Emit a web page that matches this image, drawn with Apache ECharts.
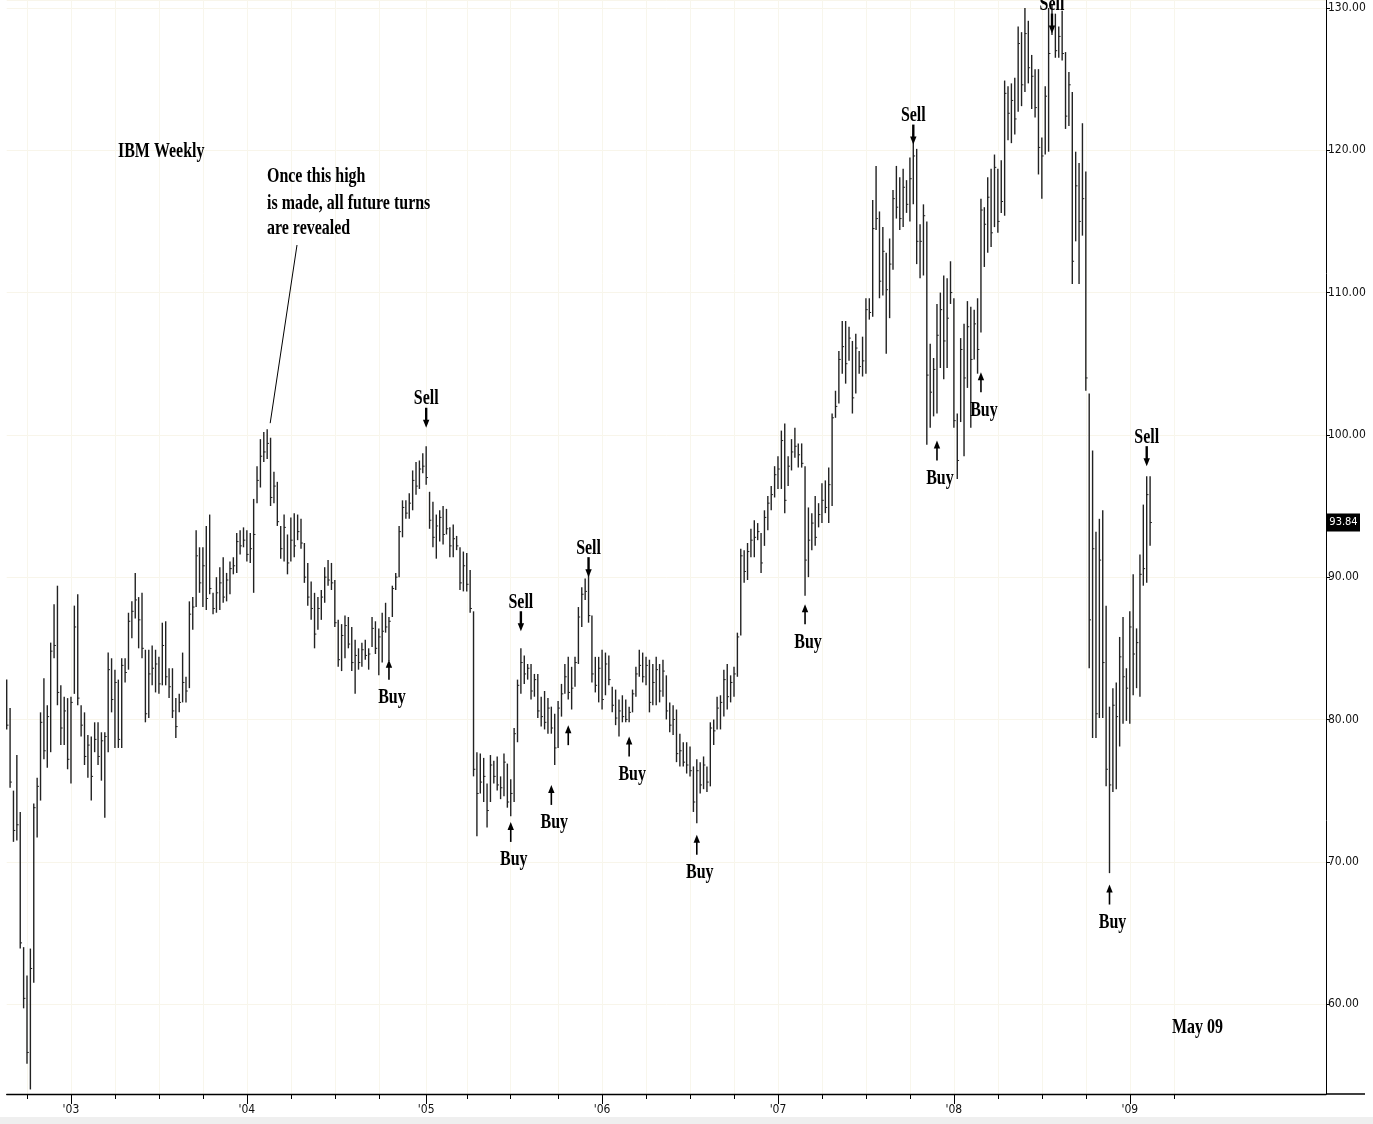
<!DOCTYPE html>
<html><head><meta charset="utf-8">
<script src="https://cdn.jsdelivr.net/npm/echarts@6/dist/echarts.min.js"></script>
<style>html,body{margin:0;padding:0;background:#fff;}#c{width:1373px;height:1124px;}</style>
</head><body><div id="c"></div>
<script>
// ---- data (weekly bars, IBM) ----
const firstWeek = '2002-08-23';
const weekSlots = 391;
const lastTickDate = '2009-04-30';
const highs = [
82.8,80.8,75.0,77.5,73.5,64.0,62.0,63.9,74.1,75.9,
80.5,82.9,81.0,85.4,88.1,89.4,82.4,81.6,81.5,81.6,
88.0,88.8,81.0,80.5,78.9,78.8,79.8,79.8,79.1,79.1,
84.7,84.3,83.5,82.8,84.3,84.3,87.5,88.3,90.3,88.6,
88.9,84.9,84.9,85.2,84.9,84.4,86.8,86.9,83.6,83.6,
81.5,81.8,84.7,83.0,88.3,88.6,93.3,92.1,92.1,93.6,
94.4,88.9,90.0,90.7,91.4,90.3,91.1,91.4,93.1,93.3,
93.5,93.3,93.1,95.5,97.8,99.7,100.2,100.4,99.8,97.4,
96.7,93.6,94.4,93.0,94.2,94.5,94.4,94.1,92.4,91.0,
89.7,88.9,88.6,89.1,90.7,91.2,91.0,89.8,87.0,86.7,
87.3,87.2,86.5,85.6,85.0,85.4,85.6,85.0,87.2,86.9,
86.4,87.5,88.2,87.2,89.4,90.3,93.6,95.4,95.4,95.9,
97.5,98.1,98.2,98.7,99.2,96.0,95.3,94.4,94.7,95.0,
94.8,93.5,93.7,92.9,92.1,91.8,91.7,90.5,87.6,77.7,
77.6,77.3,75.5,77.5,77.1,77.4,76.0,77.6,76.9,75.8,
79.4,82.8,85.0,84.5,83.9,83.9,83.2,83.2,81.6,82.0,
81.5,80.9,80.4,81.3,82.5,83.9,84.4,83.7,84.4,87.9,
89.3,89.9,90.4,87.3,84.4,84.4,84.9,84.7,84.5,82.3,
82.1,81.4,81.7,81.4,80.9,82.1,83.7,84.9,84.7,84.4,
84.2,83.9,84.4,83.9,84.2,83.1,81.2,81.0,80.7,79.0,
78.4,78.4,78.1,76.7,77.2,77.0,77.4,76.7,79.8,80.0,
81.6,81.7,83.5,83.9,83.1,83.7,86.1,92.0,91.9,92.4,
93.4,94.0,93.8,93.1,94.7,95.7,96.4,97.8,98.5,100.3,
100.8,98.5,99.7,100.5,99.4,99.4,97.8,94.9,94.5,95.7,
95.2,96.6,96.8,97.7,101.5,103.1,105.9,108.0,108.0,107.6,
106.6,107.1,105.9,106.9,109.6,109.6,116.5,118.9,115.7,114.6,
112.8,113.8,117.2,118.9,118.1,118.7,117.9,119.5,121.2,120.1,
114.8,116.2,115.0,106.4,105.4,109.2,110.0,111.2,111.0,112.2,
109.6,101.5,106.8,107.8,109.4,109.0,108.8,109.6,116.6,116.0,
118.1,118.7,119.7,118.7,119.3,124.9,124.5,124.7,125.1,128.7,
128.3,130.0,129.1,126.7,125.7,125.7,120.9,124.5,130.0,130.2,
129.6,128.7,129.8,126.9,125.5,124.1,119.9,119.1,121.9,118.5,
102.9,98.9,93.2,94.1,94.7,88.0,80.9,82.2,82.6,85.8,
87.2,83.6,87.6,90.2,86.4,91.6,95.1,97.1,97.1
];
const lows = [
79.3,75.2,71.4,71.5,63.9,59.7,55.8,54.0,61.5,71.7,
74.3,77.2,76.6,77.7,84.3,81.0,78.2,78.2,76.5,75.5,
81.8,81.0,78.8,76.8,75.9,74.3,77.7,76.8,75.7,73.1,
77.7,80.5,78.0,78.0,78.0,82.6,83.5,85.7,87.1,85.0,
84.3,79.8,80.1,82.4,81.9,81.8,82.4,82.4,81.5,80.1,
78.7,80.5,81.2,81.2,82.2,86.3,87.9,88.9,87.9,87.7,
88.8,87.4,87.5,87.7,88.2,88.3,88.8,90.2,90.3,91.6,
92.1,91.1,91.0,88.9,95.2,96.3,98.1,98.3,95.0,95.2,
93.6,91.3,91.1,90.2,91.1,91.4,92.6,92.0,89.6,88.0,
87.0,85.0,86.3,87.0,88.2,89.4,89.1,86.5,83.7,83.4,
84.3,85.0,83.4,81.8,83.5,83.7,84.2,83.5,85.1,84.6,
83.1,84.0,86.1,84.1,87.2,89.1,90.0,92.8,94.1,94.1,
94.7,95.8,96.2,97.3,96.5,93.4,92.1,91.3,92.5,92.3,
93.0,91.4,91.4,91.9,89.1,89.0,89.0,87.5,76.0,71.8,
74.8,74.2,72.4,74.2,75.5,75.0,74.4,74.6,73.8,73.2,
74.2,78.4,81.8,82.5,82.8,81.4,81.6,80.1,79.5,79.3,
79.0,79.0,76.8,78.0,80.2,81.8,81.4,80.7,82.3,83.9,
86.5,88.4,86.8,82.6,81.9,81.2,80.7,81.7,82.4,80.5,
79.6,78.8,79.8,79.8,79.8,80.5,81.6,83.0,82.6,82.4,
80.5,81.0,81.0,81.2,81.6,80.0,79.1,78.9,77.0,76.7,
76.7,76.2,76.0,73.5,72.7,74.8,75.1,74.9,75.3,78.2,
79.3,79.3,80.2,80.7,81.2,81.6,83.0,85.9,89.6,89.8,
91.4,91.4,92.6,90.3,92.2,93.3,94.7,95.6,96.2,96.2,
94.5,96.4,97.5,98.4,97.7,97.7,88.7,90.0,91.9,92.2,
93.5,93.8,94.5,93.8,95.0,101.2,102.2,104.3,103.6,105.2,
101.5,102.9,104.3,104.1,104.3,108.1,108.3,114.4,109.6,109.8,
105.7,108.2,111.6,115.2,114.4,114.6,115.6,115.0,116.2,112.0,
111.0,111.2,99.3,100.5,101.3,101.5,104.7,103.9,104.7,109.2,
100.5,96.9,100.9,98.5,103.3,100.5,105.3,104.3,107.2,111.8,
112.8,113.2,114.6,114.2,115.6,115.4,120.7,120.5,121.1,122.7,
123.1,124.1,124.7,122.9,122.3,118.3,116.6,119.7,119.9,128.1,
126.5,126.5,126.3,121.5,121.7,110.6,113.6,110.6,114.0,103.1,
83.6,78.7,78.7,80.1,80.1,75.3,69.2,74.9,75.1,78.1,
79.7,79.9,79.7,81.7,82.2,81.6,89.4,89.6,92.2
];
const closes = [
79.6,75.6,72.2,72.6,64.3,60.4,56.6,62.5,73.8,75.3,
79.8,77.8,80.2,84.8,85.2,81.9,79.4,80.6,77.2,81.2,
86.5,81.5,79.6,77.4,78.2,76.0,78.6,77.4,78.5,78.8,
83.5,81.4,82.6,78.6,83.8,83.3,86.9,87.6,88.4,87.0,
85.0,80.4,83.2,83.6,83.9,82.5,85.2,83.0,82.3,80.6,
79.5,81.2,82.6,82.0,87.4,87.9,91.5,89.6,90.8,88.5,
89.2,87.8,88.9,89.6,88.6,89.8,90.6,90.8,92.5,92.2,
92.6,91.6,92.0,93.0,96.8,98.5,98.8,99.4,95.6,96.4,
93.9,92.0,93.5,91.0,92.6,92.2,93.2,92.4,90.0,88.6,
87.8,86.0,87.8,88.6,90.0,89.8,89.6,86.8,84.2,85.9,
86.6,85.3,84.0,84.5,84.0,84.9,84.5,84.6,86.4,85.0,
85.8,86.2,86.5,86.9,89.2,90.0,93.2,94.9,94.5,95.2,
96.8,96.4,97.6,97.8,97.0,94.0,92.8,93.6,94.2,93.0,
93.4,92.2,92.7,92.2,89.6,90.8,89.5,87.8,76.5,74.8,
75.6,76.0,73.6,76.8,76.0,75.4,75.2,77.0,74.2,74.8,
79.0,82.4,84.0,83.2,83.6,82.0,82.8,80.6,80.2,79.8,
80.8,79.4,78.0,80.8,81.8,83.0,81.9,82.2,84.0,87.2,
88.8,89.0,87.3,83.2,82.4,83.6,81.4,83.9,82.8,81.0,
80.1,80.6,80.2,80.0,80.5,81.8,83.2,83.8,83.0,83.8,
81.2,82.6,83.5,82.0,83.4,80.6,79.6,80.0,77.6,77.8,
77.0,76.8,76.4,74.2,76.4,75.4,76.8,75.6,79.4,79.2,
80.8,81.2,82.8,81.6,82.6,83.2,85.8,91.5,90.4,91.8,
92.6,92.8,93.2,91.0,94.2,95.2,95.8,97.2,97.6,99.6,
95.4,97.8,98.8,99.2,98.6,98.0,91.2,92.6,93.8,92.8,
94.4,95.4,94.9,96.5,101.2,102.0,105.3,106.2,105.0,106.8,
102.6,106.1,104.8,105.2,108.8,108.6,114.5,115.2,110.8,112.9,
110.2,112.0,116.6,116.0,115.2,117.4,116.2,118.0,119.6,113.6,
113.6,115.4,104.2,103.0,104.6,107.0,108.8,106.6,108.2,110.0,
101.0,98.2,106.0,104.0,107.6,105.3,107.8,106.0,115.8,114.8,
116.7,114.2,118.8,115.0,116.4,124.0,122.6,123.5,122.2,127.5,
124.6,128.2,125.8,125.2,123.0,120.2,119.6,123.8,126.8,128.6,
127.0,128.0,126.8,122.4,124.6,112.2,117.5,115.0,116.6,104.0,
87.0,92.0,80.4,91.2,84.0,76.5,75.4,81.0,80.2,84.4,
83.0,82.2,86.5,84.6,85.4,90.2,90.6,95.8,93.84
];
// signals: [week index, arrow-tip price, kind]
const signalWeek  = [124, 152, 172, 268, 309, 337, 113, 149, 161, 166, 184, 204, 236, 275, 288, 326];
const signalPrice = [100.5, 86.2, 90.0, 120.4, 128.2, 97.8, 84.2, 72.8, 75.4, 79.6, 78.8, 71.9, 88.1, 99.6, 104.4, 68.4];
const signalKind  = ['Sell','Sell','Sell','Sell','Sell','Sell','Buy','Buy','Buy','','Buy','Buy','Buy','Buy','Buy','Buy'];
const signalDir   = ['down','down','down','down','down','down','up','up','up','up','up','up','up','up','up','up'];
const peakWeek = 77;

// ---- categories (weekly dates) ----
const weeks = [];
{
  const t0 = Date.parse(firstWeek + 'T00:00:00Z');
  for (let i = 0; i < weekSlots; i++) {
    weeks.push(new Date(t0 + i * 7 * 86400000).toISOString().slice(0, 10));
  }
}
const inTickRange = (i) => weeks[i] <= lastTickDate;
const isYearStart = (i) => i > 0 && inTickRange(i) && weeks[i].slice(0, 4) !== weeks[i - 1].slice(0, 4);
const isQuarterStart = (i) => {
  if (i <= 0 || !inTickRange(i)) return false;
  const m = +weeks[i].slice(5, 7), pm = +weeks[i - 1].slice(5, 7);
  return m !== pm && (m - 1) % 3 === 0;
};

const bars = highs.map((h, i) => [i, h, lows[i], closes[i]]);
const signals = signalWeek.map((w, i) => [w, signalPrice[i], signalKind[i], signalDir[i]]);

const narrow = "'Liberation Sans Narrow','Arial Narrow','DejaVu Sans Condensed',sans-serif";
const serifBold = "bold 21px 'Liberation Serif','DejaVu Serif',serif";

const chart = echarts.init(document.getElementById('c'), null, {renderer: 'canvas'});
const option = {
  animation: false,
  backgroundColor: '#ffffff',
  grid: {left: 6.7, right: 47, top: 0, bottom: 30, containLabel: false},
  xAxis: [{
    type: 'category', data: weeks, boundaryGap: false, position: 'bottom',
    axisLine: {show: true, lineStyle: {color: '#000', width: 1.3}},
    axisTick: {show: true, length: 5, interval: (i) => isQuarterStart(i), lineStyle: {color: '#000'}},
    axisLabel: {show: false},
    splitLine: {show: true, interval: (i) => isQuarterStart(i), lineStyle: {color: '#f8f6ec', width: 1}}
  }, {
    type: 'category', data: weeks, boundaryGap: false, position: 'bottom',
    axisLine: {show: false},
    axisTick: {show: true, length: 10, interval: (i) => isYearStart(i), lineStyle: {color: '#000'}},
    axisLabel: {show: true, interval: (i) => isYearStart(i), formatter: (v) => "'" + v.slice(2, 4),
      fontFamily: narrow, fontSize: 12, color: '#111', margin: 10},
    splitLine: {show: false}
  }],
  yAxis: {
    type: 'value', position: 'right', min: 53.68, max: 130.56, splitNumber: 8, scale: true,
    axisLine: {show: true, lineStyle: {color: '#000', width: 1}},
    axisTick: {show: true, length: 4, lineStyle: {color: '#000'}},
    axisLabel: {formatter: (v) => v.toFixed(2), fontFamily: narrow, fontSize: 12, color: '#111', margin: 2,
      showMinLabel: false, showMaxLabel: false},
    splitLine: {show: true, lineStyle: {color: '#f8f5ea', width: 1}}
  },
  series: [{
    type: 'custom', name: 'IBM', xAxisIndex: 0, yAxisIndex: 0, data: bars,
    encode: {x: 0, y: [1, 2, 3]},
    renderItem: (params, api) => {
      const i = api.value(0);
      const hi = api.coord([i, api.value(1)]);
      const lo = api.coord([i, api.value(2)]);
      const cl = api.coord([i, api.value(3)]);
      const x = hi[0];
      return {type: 'group', children: [
        {type: 'line', shape: {x1: x, y1: hi[1], x2: x, y2: lo[1]}, style: {stroke: '#222', lineWidth: 1.4}},
        {type: 'line', shape: {x1: x, y1: cl[1], x2: x + 1.8, y2: cl[1]}, style: {stroke: '#222', lineWidth: 1}}
      ]};
    }
  }, {
    type: 'custom', name: 'signals', xAxisIndex: 0, yAxisIndex: 0, data: signals,
    encode: {x: 0, y: 1},
    renderItem: (params, api) => {
      const p = api.coord([api.value(0), api.value(1)]);
      const d = signals[params.dataIndex];
      const label = d[2], down = d[3] === 'down';
      const x = p[0], y = p[1];
      const s = down ? -1 : 1;
      const children = [
        {type: 'line', shape: {x1: x, y1: y + s * 20, x2: x, y2: y + s * 6}, style: {stroke: '#000', lineWidth: down ? 2.4 : 1.6}},
        {type: 'polygon', shape: {points: [[x - 3.2, y + s * 8], [x + 3.2, y + s * 8], [x, y]]}, style: {fill: '#000'}}
      ];
      if (label) {
        children.push({type: 'text', x: x + (down ? 0 : 3), y: y + (down ? -29 : 38), scaleX: 0.76,
          style: {text: label, font: serifBold, fill: '#000', textAlign: 'center', textVerticalAlign: 'middle'}});
      }
      return {type: 'group', children};
    }
  }]
};
chart.setOption(option);

const lastClose = closes[closes.length - 1];
const py = chart.convertToPixel({yAxisIndex: 0}, lastClose);
const peak = chart.convertToPixel({xAxisIndex: 0, yAxisIndex: 0}, [peakWeek, highs[peakWeek]]);
const txt = (t, x, y) => ({type: 'text', x, y, scaleX: 0.76,
  style: {text: t, font: serifBold, fill: '#000', textAlign: 'left', textVerticalAlign: 'middle'}});
chart.setOption({graphic: [
  txt('IBM Weekly', 118, 152),
  txt('Once this high', 267, 177),
  txt('is made, all future turns', 267, 204),
  txt('are revealed', 267, 229),
  txt('May 09', 1172, 1028),
  {type: 'line', shape: {x1: 297, y1: 245, x2: peak[0] + 3, y2: peak[1] - 6}, style: {stroke: '#000', lineWidth: 1}},
  {type: 'line', shape: {x1: 1326, y1: 1094, x2: 1365, y2: 1094}, style: {stroke: '#000', lineWidth: 1.3}},
  {type: 'rect', shape: {x: 0, y: 1117, width: 1373, height: 7}, style: {fill: '#efefef'}},
  {type: 'rect', shape: {x: 1327, y: py - 9, width: 33, height: 18}, style: {fill: '#000'}},
  {type: 'text', x: 1343.5, y: py, style: {text: lastClose.toFixed(2), fill: '#fff', font: "11px " + narrow, textAlign: 'center', textVerticalAlign: 'middle'}}
]});
</script>
</body></html>
